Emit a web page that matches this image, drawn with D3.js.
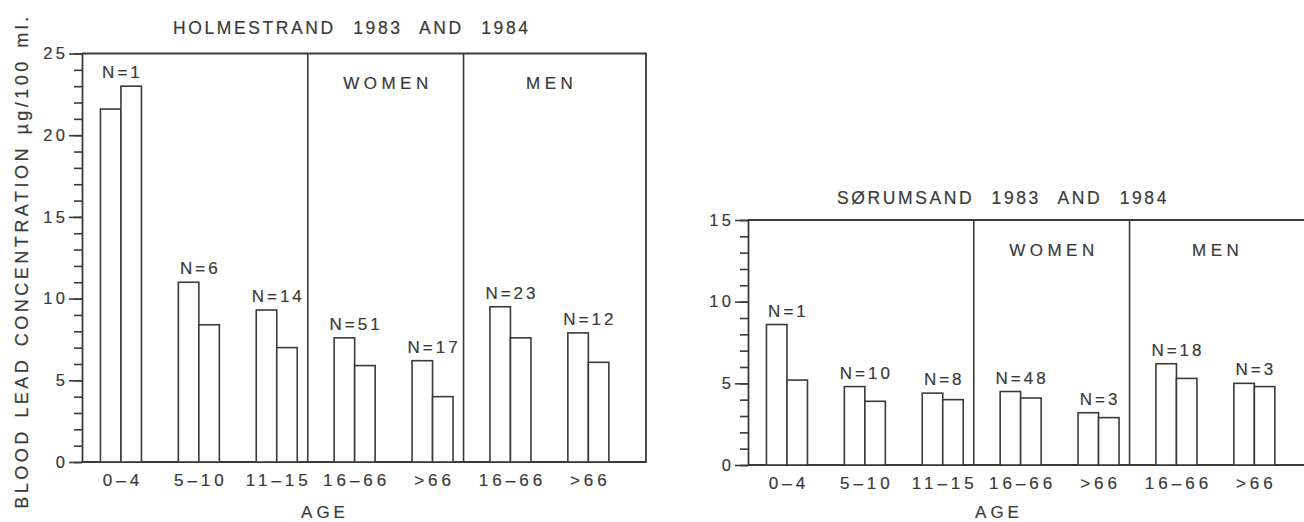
<!DOCTYPE html>
<html>
<head>
<meta charset="utf-8">
<script src="https://cdn.jsdelivr.net/npm/d3@7"></script>
<style>
  body { margin: 0; background: #fff; }
  svg text {
    font-family: "Liberation Sans", Arial, Helvetica, sans-serif;
    fill: #3a3a3a; stroke: #3a3a3a; stroke-width: 0.2px;
  }
</style>
</head>
<body>
<svg id="chart" width="1304" height="522"></svg>
<script>
// Age groups (children, then women and men by age)
const groupKeys   = ["0-4", "5-10", "11-15", "W16-66", "W>66", "M16-66", "M>66"];
const groupLabels = ["0–4", "5–10", "11–15", "16–66", ">66", "16–66", ">66"];
const years = ["1983", "1984"];

// Mean blood lead, µg/100 ml
const holmestrand1983 = [21.6, 11.0, 9.3, 7.6, 6.2, 9.5, 7.9];
const holmestrand1984 = [23.0, 8.4, 7.0, 5.9, 4.0, 7.6, 6.1];
const holmestrandN    = [1, 6, 14, 51, 17, 23, 12];
const holmestrandTicks = [0, 5, 10, 15, 20, 25];

const sorumsand1983 = [8.6, 4.8, 4.4, 4.5, 3.2, 6.2, 5.0];
const sorumsand1984 = [5.2, 3.9, 4.0, 4.1, 2.9, 5.3, 4.8];
const sorumsandN    = [1, 10, 8, 48, 3, 18, 3];
const sorumsandTicks = [0, 5, 10, 15];

const INK = "#3a3a3a";
const svg = d3.select("#chart");

// spaced lettering; dx shifts by the trailing spacing so anchors stay true
function lettering(sel, size, ls, anchor) {
  sel.attr("font-size", size).attr("letter-spacing", ls)
     .attr("font-family", null)
     .attr("dx", anchor === "middle" ? ls / 2 : anchor === "end" ? ls : 0);
  return sel;
}

function panel(o) {
  const g = svg.append("g");
  const boxW = 564;
  const y = d3.scaleLinear().domain([0, o.yMax]).range([o.base, o.top]);
  const x = d3.scaleBand().domain(groupKeys).range([o.left, o.left + 545.3]);
  const sub = d3.scaleBand().domain(years).range([-20.5, 20.5]);
  const cx = k => x(k) + x.bandwidth() / 2;

  // frame: top, right side, baseline
  const right = o.left + boxW;
  g.append("path")
    .attr("d", `M${o.left},${o.top}H${right}V${o.base}H${o.left}`)
    .attr("fill", "none").attr("stroke", INK).attr("stroke-width", 1.8);

  // minor ticks (every unit)
  g.append("g").attr("transform", `translate(${o.left},0)`)
    .call(d3.axisLeft(y).tickValues(d3.range(0, o.yMax + 1)).tickSize(8).tickSizeOuter(0).tickFormat(""))
    .call(a => a.select(".domain").remove())
    .call(a => a.selectAll("line").attr("stroke", INK).attr("stroke-width", 1.6));

  // major ticks with labels
  g.append("g").attr("transform", `translate(${o.left},0)`)
    .call(d3.axisLeft(y).tickValues(o.ticks).tickSize(13).tickSizeOuter(0).tickPadding(4))
    .call(a => a.select(".domain").attr("stroke", INK).attr("stroke-width", 1.8))
    .call(a => a.selectAll("line").attr("stroke", INK).attr("stroke-width", 1.6))
    .call(a => lettering(a.selectAll("text"), 16.5, 3.5, "end"));

  // dividers between children, women and men
  const dividers = [cx("11-15") + 31, cx("W>66") + 31];
  g.selectAll(".divider").data(dividers).join("line")
    .attr("x1", d => d).attr("x2", d => d)
    .attr("y1", o.top).attr("y2", o.base)
    .attr("stroke", INK).attr("stroke-width", 1.6);

  // bars
  const rows = groupKeys.map((k, i) => ({ key: k, v: [o.v1983[i], o.v1984[i]], n: o.n[i] }));
  const grp = g.selectAll(".grp").data(rows).join("g");
  grp.selectAll("rect").data(d => years.map((yr, j) => ({ key: d.key, yr, v: d.v[j] }))).join("rect")
    .attr("x", d => cx(d.key) + sub(d.yr))
    .attr("width", sub.bandwidth())
    .attr("y", d => y(d.v))
    .attr("height", d => o.base - y(d.v))
    .attr("fill", "#fff").attr("stroke", INK).attr("stroke-width", 1.6);

  // sample sizes
  grp.append("text")
    .attr("x", d => cx(d.key))
    .attr("y", d => y(d3.max(d.v)) - 8)
    .attr("text-anchor", "middle")
    .text(d => "N=" + d.n)
    .call(s => lettering(s, 17, 3, "middle"));

  // age labels
  g.append("g").attr("transform", `translate(0,${o.base})`)
    .call(d3.axisBottom(x).tickSize(0).tickPadding(12).tickFormat((d, i) => groupLabels[i]))
    .call(a => a.select(".domain").remove())
    .call(a => lettering(a.selectAll("text"), 17, 4, "middle"));

  // panel headings
  g.append("text")
    .attr("x", (dividers[0] + dividers[1]) / 2).attr("y", o.top + 35.5)
    .attr("text-anchor", "middle").text("WOMEN")
    .call(s => lettering(s, 17, 4.5, "middle"));
  g.append("text")
    .attr("x", (cx("M16-66") + cx("M>66")) / 2).attr("y", o.top + 35.5)
    .attr("text-anchor", "middle").text("MEN")
    .call(s => lettering(s, 17, 4.5, "middle"));

  // title
  g.append("text")
    .attr("x", o.titleX).attr("y", o.titleY)
    .attr("word-spacing", 10)
    .text(o.title)
    .call(s => lettering(s, 17.5, 2.6, "start"));

  // x-axis title
  g.append("text")
    .attr("x", o.ageX).attr("y", 518)
    .attr("text-anchor", "middle").text("AGE")
    .call(s => lettering(s, 17, 4, "middle"));

  if (o.yTitle) {
    g.append("text")
      .attr("transform", `translate(28,${(o.top + o.base) / 2 + 5}) rotate(-90)`)
      .attr("text-anchor", "middle").attr("word-spacing", 2)
      .text(o.yTitle)
      .call(s => lettering(s, 18, 3.5, "middle"));
  }
}

panel({
  left: 82, top: 53.5, base: 462, yMax: 25, ticks: holmestrandTicks,
  v1983: holmestrand1983, v1984: holmestrand1984, n: holmestrandN,
  title: "HOLMESTRAND 1983 AND 1984", titleX: 173, titleY: 34, ageX: 323,
  yTitle: "BLOOD LEAD CONCENTRATION µg/100 ml."
});

panel({
  left: 748, top: 220, base: 465, yMax: 15, ticks: sorumsandTicks,
  v1983: sorumsand1983, v1984: sorumsand1984, n: sorumsandN,
  title: "SØRUMSAND 1983 AND 1984", titleX: 837, titleY: 203.5, ageX: 997
});
</script>
</body>
</html>
